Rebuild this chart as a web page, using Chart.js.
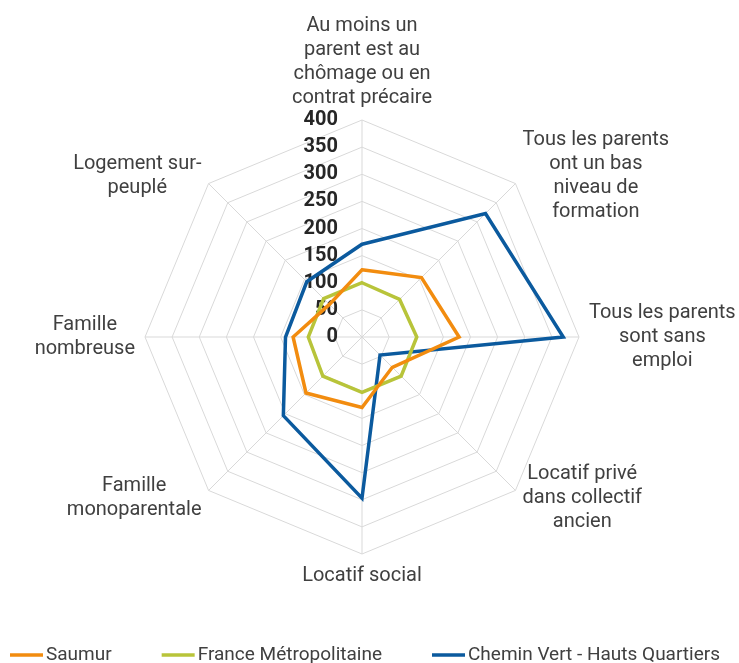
<!DOCTYPE html>
<html><head><meta charset="utf-8">
<script src="https://cdn.jsdelivr.net/npm/chart.js@4/dist/chart.umd.min.js"></script>
<style>html,body{margin:0;padding:0;background:#fff;overflow:hidden;width:739px;height:663px}canvas{display:block}</style>
</head><body>
<canvas id="c" width="739" height="674"></canvas>
<script>
const categories = [
  ["Au moins un","parent est au","chômage ou en","contrat précaire"],
  ["Tous les parents","ont un bas","niveau de","formation"],
  ["Tous les parents","sont sans","emploi"],
  ["Locatif privé","dans collectif","ancien"],
  ["Locatif social"],
  ["Famille","monoparentale"],
  ["Famille","nombreuse"],
  ["Logement sur-","peuplé"]
];
const seriesNames = ["Saumur","France Métropolitaine","Chemin Vert - Hauts Quartiers"];
const saumur = [124,155,179,79,130,146,127,85];
const france = [100,98,101,102,102,102,99,100];
const cheminVert = [171,322,371,47,297,205,141,144];
const tickLabels = [0,50,100,150,200,250,300,350,400];
const colors = ["#F28C0F","#B8C43A","#0B5A9E"];

const textPlugin = {
  id:'customText',
  beforeDatasetsDraw(chart){
    const s = chart.scales.r, ctx = chart.ctx;
    ctx.save();
    ctx.font = 'bold 20px Roboto';
    ctx.fillStyle = '#262626';
    ctx.textAlign = 'right';
    ctx.textBaseline = 'middle';
    s.ticks.forEach(t => {
      const d = s.getDistanceFromCenterForValue(t.value);
      ctx.fillText(String(t.value), s.xCenter - 24, s.yCenter - d);
    });
    ctx.font = '20px Roboto';
    ctx.fillStyle = '#404040';
    const lh = 24;
    chart.data.labels.forEach((lines, i) => {
      const p = s.getPointPosition(i, s.drawingArea + 10);
      const dx = p.x - s.xCenter, dy = p.y - s.yCenter;
      const bw = Math.max(...lines.map(l => ctx.measureText(l).width));
      let cx = p.x;
      if (dx > 1) cx = p.x + bw/2; else if (dx < -1) cx = p.x - bw/2;
      const bh = lines.length * lh;
      let top = p.y - bh/2;
      if (Math.abs(dx) <= 1) top = dy < 0 ? p.y - bh : p.y;
      ctx.textAlign = 'center';
      ctx.textBaseline = 'middle';
      lines.forEach((l, k) => ctx.fillText(l, cx, top + lh*k + lh/2));
    });
    ctx.restore();
  },
  afterDraw(chart){
    const ctx = chart.ctx;
    ctx.save();
    ctx.font = '19px Roboto';
    const lineW = 33, gapT = 3, gapI = 50, y = 655;
    const items = chart.data.datasets.map(d => ({label:d.label, color:d.borderColor, w: lineW + gapT + ctx.measureText(d.label).width}));
    const total = items.reduce((a,b)=>a+b.w,0) + gapI*(items.length-1);
    let x = 365 - total/2;
    items.forEach(it => {
      ctx.strokeStyle = it.color; ctx.lineWidth = 3.5; ctx.lineCap = 'butt';
      ctx.beginPath(); ctx.moveTo(x, y); ctx.lineTo(x+lineW, y); ctx.stroke();
      ctx.fillStyle = '#404040'; ctx.textAlign = 'left'; ctx.textBaseline = 'middle';
      ctx.fillText(it.label, x + lineW + gapT, y);
      x += it.w + gapI;
    });
    ctx.restore();
  }
};

const seriesData = [saumur, france, cheminVert];
new Chart(document.getElementById('c'), {
  type:'radar',
  data:{
    labels: categories,
    datasets: seriesNames.map((n,i)=>({
      label:n, data:seriesData[i], borderColor:colors[i], backgroundColor:'rgba(0,0,0,0)',
      borderWidth:3.5, pointRadius:0, pointHoverRadius:0, fill:false, tension:0
    }))
  },
  options:{
    responsive:false, animation:false,
    layout:{padding:{left:145,right:160,top:120,bottom:120}},
    plugins:{legend:{display:false}, tooltip:{enabled:false}},
    elements:{line:{borderJoinStyle:'miter'}},
    scales:{r:{
      min:0, max:400,
      afterBuildTicks:(s)=>{ s.ticks = tickLabels.map(v=>({value:v})); },
      ticks:{display:false, stepSize:50},
      grid:{color:'#d9d9d9', lineWidth:1},
      angleLines:{color:'#d9d9d9', lineWidth:1},
      pointLabels:{display:false}
    }}
  },
  plugins:[textPlugin]
});
</script>
</body></html>
